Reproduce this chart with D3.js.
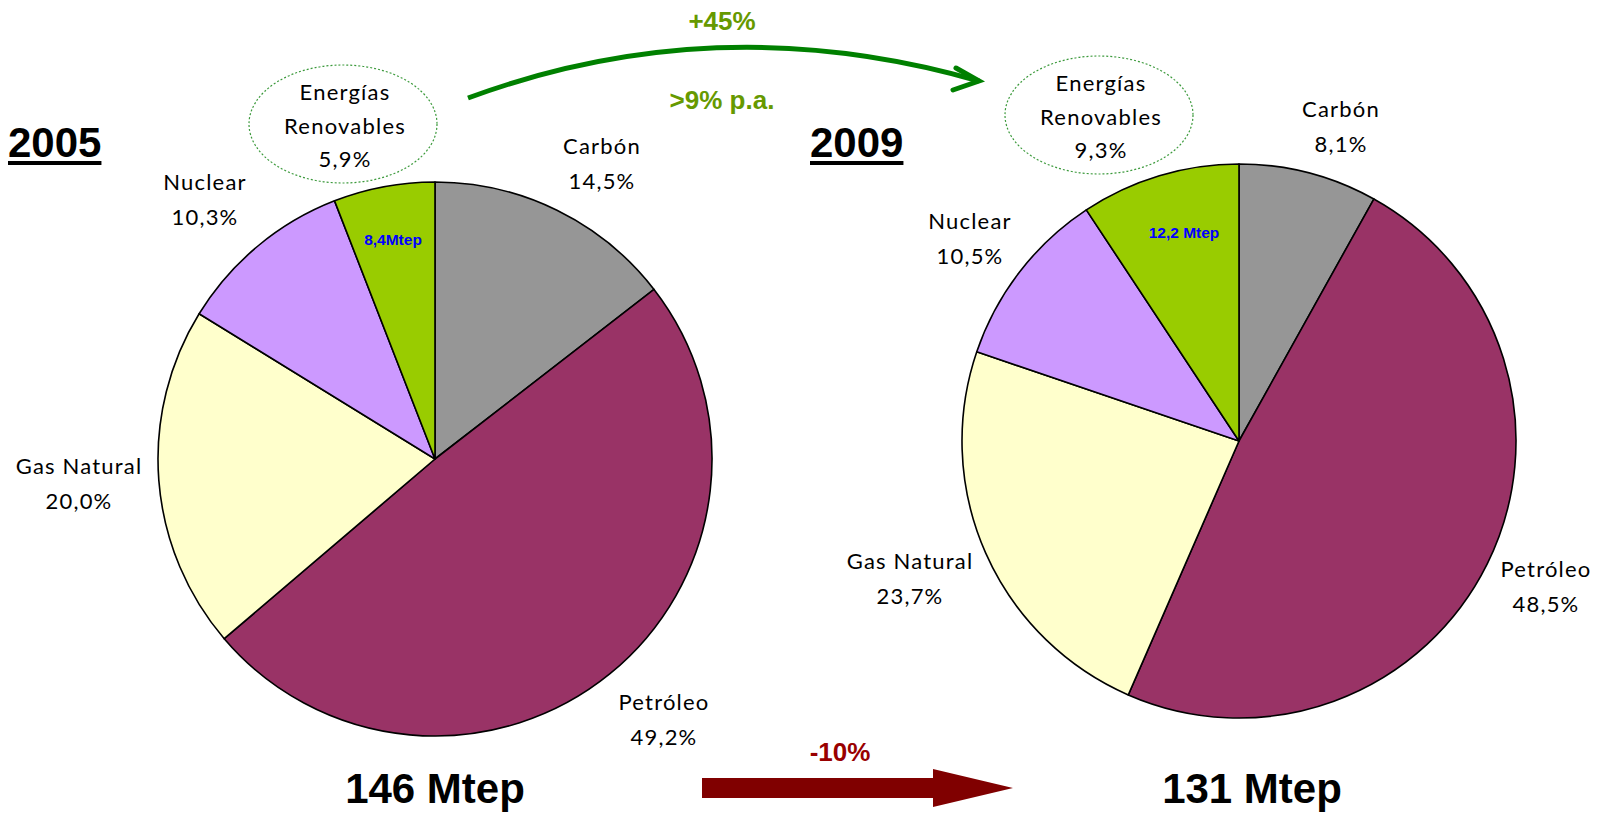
<!DOCTYPE html>
<html>
<head>
<meta charset="utf-8">
<title>Consumo de energía primaria 2005 - 2009</title>
<script src="https://d3js.org/d3.v7.min.js"></script>
<style>
  body { margin: 0; background: #fff; }
  .lbl { font-family: Lato, "Open Sans", sans-serif; font-size: 22px; letter-spacing: 1.2px; fill: #000; }
</style>
</head>
<body>
<div id="chart"></div>
<script>
// data
var categories = ["Carbón", "Petróleo", "Gas Natural", "Nuclear", "Energías Renovables"];
var shares2005 = [14.5, 49.2, 20.0, 10.3, 5.9];
var shares2009 = [8.1, 48.5, 23.7, 10.5, 9.3];
var years = ["2005", "2009"];
var totals = ["146 Mtep", "131 Mtep"];
var renewMtep = ["8,4Mtep", "12,2 Mtep"];
var growthLabels = ["+45%", ">9% p.a."];
var totalChange = "-10%";

var fmt = function(v){ return d3.format(".1f")(v).replace(".", ",") + "%"; };

var width = 1606, height = 813;
var svg = d3.select("#chart").append("svg")
  .attr("width", width)
  .attr("height", height);

var color = d3.scaleOrdinal()
  .domain(categories)
  .range(["#969696", "#993366", "#FFFFCC", "#CC99FF", "#99CC00"]);

var pie = d3.pie().sort(null).value(function(d){ return d.value; });
var radius = 277;
var arc = d3.arc().innerRadius(0).outerRadius(radius);

// layout for each pie (label offsets relative to the pie centre)
var pies = [
  { year: years[0], values: shares2005, total: totals[0], mtep: renewMtep[0],
    cx: 435, cy: 459, yearX: 8,
    labels: [[167, -312], [229, 244], [-356, 8], [-230, -276]],
    ell: [-92, -335], mtepPos: [-42, -219] },
  { year: years[1], values: shares2009, total: totals[1], mtep: renewMtep[1],
    cx: 1239, cy: 441, yearX: 810,
    labels: [[102, -331], [307, 129], [-329, 121], [-269, -219]],
    ell: [-140, -326], mtepPos: [-55, -208] }
];

pies.forEach(function(p){
  var data = categories.map(function(c, i){ return {cat: c, value: p.values[i]}; });
  var g = svg.append("g").attr("transform", "translate(" + p.cx + "," + p.cy + ")");

  g.selectAll("path.slice")
    .data(pie(data))
    .enter().append("path")
    .attr("class", "slice")
    .attr("d", arc)
    .attr("fill", function(d){ return color(d.data.cat); })
    .attr("stroke", "#000")
    .attr("stroke-width", 1.6)
    .attr("stroke-linejoin", "round");

  // labels for first four categories
  data.slice(0, 4).forEach(function(d, i){
    var t = g.append("text").attr("class", "lbl").attr("text-anchor", "middle");
    t.append("tspan").attr("x", p.labels[i][0]).attr("y", p.labels[i][1] + 7).text(d.cat);
    t.append("tspan").attr("x", p.labels[i][0]).attr("y", p.labels[i][1] + 42).text(fmt(d.value));
  });

  // renewables bubble
  var e = g.append("g").attr("transform", "translate(" + p.ell[0] + "," + p.ell[1] + ")");
  e.append("ellipse")
    .attr("rx", 94).attr("ry", 59)
    .attr("fill", "none")
    .attr("stroke", "#3C9A3C")
    .attr("stroke-width", 1.2)
    .attr("stroke-dasharray", "2,2");
  var rt = e.append("text").attr("class", "lbl").attr("text-anchor", "middle");
  ["Energías", "Renovables", fmt(p.values[4])].forEach(function(s, k){
    rt.append("tspan").attr("x", 2).attr("y", -31 + k * 33.5 + 7).text(s);
  });

  g.append("text")
    .attr("x", p.mtepPos[0]).attr("y", p.mtepPos[1] + 5)
    .attr("text-anchor", "middle")
    .style("font-family", "Arial, 'Liberation Sans', sans-serif")
    .style("font-weight", "bold")
    .style("font-size", "15.5px")
    .style("fill", "#0000FF")
    .text(p.mtep);

  // year heading, underlined
  var yt = svg.append("text")
    .attr("x", p.yearX).attr("y", 157)
    .style("font-family", "Arial, 'Liberation Sans', sans-serif")
    .style("font-weight", "bold")
    .style("font-size", "42px")
    .text(p.year);
  var w = yt.node().getComputedTextLength();
  svg.append("rect")
    .attr("x", p.yearX).attr("y", 161)
    .attr("width", w).attr("height", 4)
    .attr("fill", "#000");

  // total
  svg.append("text")
    .attr("x", p.cx + (p.year === "2005" ? 0 : 13)).attr("y", 803)
    .attr("text-anchor", "middle")
    .style("font-family", "Arial, 'Liberation Sans', sans-serif")
    .style("font-weight", "bold")
    .style("font-size", "42px")
    .text(p.total);
});

// green growth arrow
svg.append("path")
  .attr("d", "M468,98 Q718,6 979,81")
  .attr("fill", "none")
  .attr("stroke", "#008000")
  .attr("stroke-width", 5);
svg.append("path")
  .attr("d", "M956,68 L979,81 L953,90")
  .attr("fill", "none")
  .attr("stroke", "#008000")
  .attr("stroke-width", 5)
  .attr("stroke-linecap", "round")
  .attr("stroke-linejoin", "miter");

svg.selectAll("text.growth")
  .data(growthLabels)
  .enter().append("text")
  .attr("class", "growth")
  .attr("x", 722)
  .attr("y", function(d, i){ return i === 0 ? 30 : 109; })
  .attr("text-anchor", "middle")
  .style("font-family", "Arial, 'Liberation Sans', sans-serif")
  .style("font-weight", "bold")
  .style("font-size", "26px")
  .style("fill", "#669900")
  .text(function(d){ return d; });

// red decline arrow
svg.append("path")
  .attr("d", "M702,778 L933,778 L933,769 L1013,788 L933,807 L933,798 L702,798 Z")
  .attr("fill", "#800000");
svg.append("text")
  .attr("x", 840).attr("y", 761)
  .attr("text-anchor", "middle")
  .style("font-family", "Arial, 'Liberation Sans', sans-serif")
  .style("font-weight", "bold")
  .style("font-size", "26px")
  .style("fill", "#990000")
  .text(totalChange);
</script>
</body>
</html>
